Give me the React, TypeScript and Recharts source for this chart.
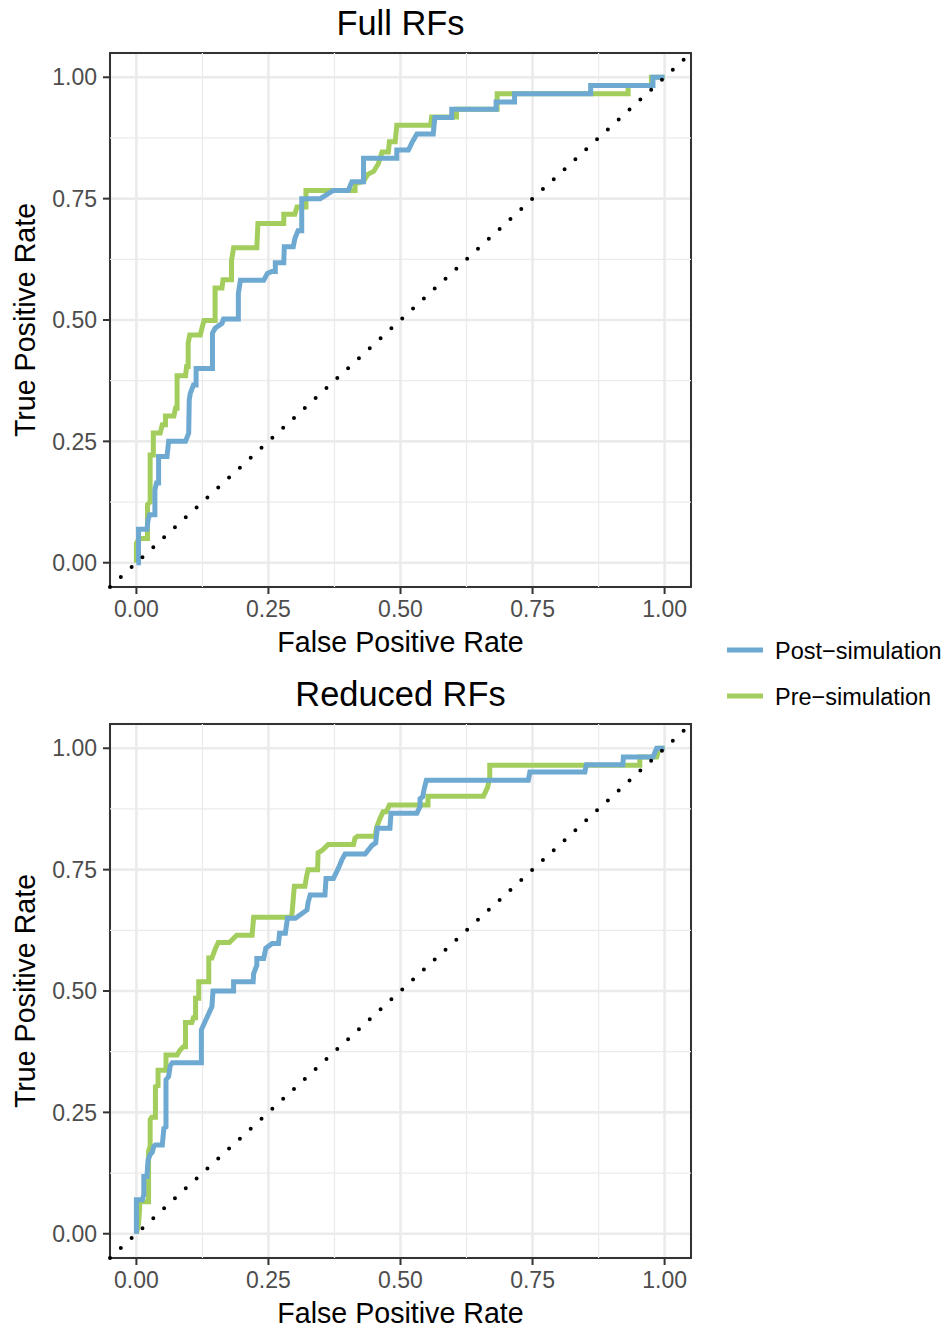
import { LineChart, Line, XAxis, YAxis, CartesianGrid, ReferenceLine, ReferenceArea, Label } from "recharts";

type Pair = [number, number];

const axisTicks = [0, 0.25, 0.5, 0.75, 1];
const minorTicks = [0.125, 0.375, 0.625, 0.875];
const domain: [number, number] = [-0.05, 1.05];

const POST_COLOR = "#6ea9d1";
const PRE_COLOR = "#a3cd5c";

// ROC vertices as [false positive rate, true positive rate]
const fullPre: Pair[] = [
  [0, 0], [0, 0.04], [0.005, 0.05], [0.021, 0.05], [0.021, 0.12], [0.026, 0.125], [0.026, 0.222],
  [0.032, 0.222], [0.032, 0.267], [0.045, 0.267], [0.049, 0.284], [0.055, 0.284], [0.055, 0.302],
  [0.071, 0.302], [0.074, 0.318], [0.077, 0.318], [0.077, 0.385], [0.093, 0.385], [0.095, 0.404],
  [0.098, 0.404], [0.098, 0.452], [0.101, 0.469], [0.121, 0.469], [0.124, 0.483], [0.128, 0.499],
  [0.149, 0.499], [0.149, 0.566], [0.162, 0.566], [0.164, 0.583], [0.18, 0.583], [0.18, 0.622],
  [0.184, 0.649], [0.228, 0.649], [0.23, 0.699], [0.279, 0.699], [0.279, 0.718], [0.3, 0.718],
  [0.304, 0.733], [0.321, 0.733], [0.321, 0.767], [0.414, 0.767], [0.414, 0.781], [0.43, 0.785],
  [0.438, 0.8], [0.449, 0.806], [0.458, 0.822], [0.465, 0.846], [0.477, 0.846], [0.479, 0.867],
  [0.49, 0.867], [0.493, 0.901], [0.557, 0.901], [0.559, 0.918], [0.606, 0.918], [0.606, 0.934],
  [0.683, 0.934], [0.683, 0.966], [0.931, 0.966], [0.931, 0.983], [0.975, 0.983], [0.975, 1], [1, 1],
];

const fullPost: Pair[] = [
  [0, 0], [0.004, 0], [0.004, 0.069], [0.02, 0.069], [0.022, 0.088], [0.025, 0.099], [0.035, 0.099],
  [0.035, 0.15], [0.038, 0.164], [0.042, 0.164], [0.042, 0.219], [0.058, 0.219], [0.061, 0.25],
  [0.093, 0.25], [0.099, 0.267], [0.1, 0.335], [0.102, 0.349], [0.108, 0.366], [0.113, 0.366],
  [0.113, 0.4], [0.144, 0.4], [0.144, 0.473], [0.149, 0.483], [0.162, 0.493], [0.165, 0.502],
  [0.193, 0.502], [0.193, 0.555], [0.197, 0.582], [0.241, 0.582], [0.248, 0.596], [0.256, 0.6],
  [0.263, 0.6], [0.263, 0.618], [0.279, 0.618], [0.28, 0.651], [0.297, 0.651], [0.3, 0.668],
  [0.306, 0.684], [0.313, 0.684], [0.313, 0.75], [0.348, 0.75], [0.373, 0.767], [0.401, 0.767],
  [0.408, 0.785], [0.43, 0.785], [0.43, 0.833], [0.493, 0.833], [0.493, 0.85], [0.515, 0.85],
  [0.522, 0.866], [0.531, 0.883], [0.562, 0.883], [0.565, 0.917], [0.597, 0.917], [0.597, 0.934],
  [0.681, 0.934], [0.681, 0.949], [0.716, 0.949], [0.716, 0.966], [0.86, 0.966], [0.86, 0.983],
  [0.978, 0.983], [0.978, 1], [1, 1],
];

const reducedPre: Pair[] = [
  [0, 0], [0.004, 0.02], [0.006, 0.05], [0.006, 0.066], [0.023, 0.066], [0.023, 0.17], [0.026, 0.18],
  [0.026, 0.235], [0.029, 0.24], [0.036, 0.24], [0.036, 0.303], [0.041, 0.305], [0.041, 0.337],
  [0.056, 0.337], [0.056, 0.368], [0.077, 0.368], [0.083, 0.379], [0.089, 0.385], [0.093, 0.385],
  [0.093, 0.435], [0.105, 0.435], [0.108, 0.445], [0.112, 0.445], [0.112, 0.485], [0.118, 0.485],
  [0.118, 0.519], [0.137, 0.519], [0.137, 0.568], [0.143, 0.568], [0.149, 0.586], [0.155, 0.6],
  [0.176, 0.6], [0.19, 0.615], [0.219, 0.615], [0.222, 0.652], [0.294, 0.652], [0.299, 0.716],
  [0.319, 0.716], [0.322, 0.735], [0.325, 0.75], [0.343, 0.75], [0.344, 0.785], [0.352, 0.79],
  [0.363, 0.802], [0.411, 0.802], [0.414, 0.815], [0.419, 0.819], [0.452, 0.819], [0.455, 0.838],
  [0.461, 0.855], [0.467, 0.869], [0.473, 0.869], [0.479, 0.883], [0.552, 0.883], [0.552, 0.901],
  [0.657, 0.901], [0.665, 0.92], [0.669, 0.94], [0.669, 0.965], [0.953, 0.965], [0.953, 0.982],
  [0.985, 0.982], [0.99, 1], [1, 1],
];

const reducedPost: Pair[] = [
  [0, 0], [0, 0.07], [0.011, 0.07], [0.014, 0.08], [0.014, 0.118], [0.02, 0.118], [0.022, 0.152],
  [0.026, 0.163], [0.03, 0.168], [0.033, 0.18], [0.036, 0.183], [0.049, 0.183], [0.052, 0.217],
  [0.056, 0.22], [0.056, 0.317], [0.061, 0.324], [0.064, 0.346], [0.068, 0.352], [0.123, 0.352],
  [0.123, 0.42], [0.143, 0.468], [0.145, 0.5], [0.184, 0.5], [0.184, 0.519], [0.221, 0.519],
  [0.222, 0.536], [0.228, 0.553], [0.228, 0.567], [0.241, 0.567], [0.245, 0.588], [0.257, 0.598],
  [0.269, 0.598], [0.271, 0.619], [0.282, 0.619], [0.286, 0.65], [0.301, 0.65], [0.323, 0.667],
  [0.325, 0.682], [0.329, 0.698], [0.357, 0.698], [0.359, 0.732], [0.373, 0.732], [0.382, 0.752],
  [0.389, 0.77], [0.395, 0.782], [0.433, 0.782], [0.446, 0.8], [0.453, 0.805], [0.456, 0.835],
  [0.48, 0.835], [0.482, 0.866], [0.531, 0.866], [0.537, 0.88], [0.537, 0.896], [0.542, 0.9],
  [0.545, 0.917], [0.549, 0.934], [0.742, 0.934], [0.745, 0.951], [0.849, 0.951], [0.852, 0.966],
  [0.921, 0.966], [0.922, 0.982], [0.978, 0.982], [0.985, 1], [1, 1],
];

const legendItems = [
  { label: "Post\u2212simulation", color: POST_COLOR },
  { label: "Pre\u2212simulation", color: PRE_COLOR },
];

const toRows = (pts: Pair[]) => pts.map(([fpr, tpr]) => ({ fpr, tpr }));

type PanelProps = { title: string; pre: Pair[]; post: Pair[]; top: number };

const RocPanel = ({ title, pre, post, top }: PanelProps) => {
  return (
    <div style={{ position: "absolute", left: 0, top, width: 700, height: 665 }}>
      <div
        style={{
          position: "absolute", left: 110, top: 6, width: 581, textAlign: "center",
          fontSize: 34.4, lineHeight: 1, color: "#000",
        }}
      >
        {title}
      </div>
      <LineChart width={700} height={665} margin={{ top: 53, right: 9, left: 0, bottom: 0 }}>
        <CartesianGrid stroke="#EBEBEB" strokeWidth={2.6} />
        {minorTicks.map((t) => (
          <ReferenceLine key={"mx" + t} x={t} stroke="#EBEBEB" strokeWidth={1.3} />
        ))}
        {minorTicks.map((t) => (
          <ReferenceLine key={"my" + t} y={t} stroke="#EBEBEB" strokeWidth={1.3} />
        ))}
        <XAxis
          type="number"
          dataKey="fpr"
          domain={domain}
          ticks={axisTicks}
          interval={0}
          tickFormatter={(v: number) => v.toFixed(2)}
          height={78}
          tickSize={7}
          tickMargin={7}
          axisLine={false}
          tickLine={{ stroke: "#333333", strokeWidth: 2 }}
          tick={{ fill: "#4D4D4D", fontSize: 23 }}
        >
          <Label value="False Positive Rate" position="insideBottom" offset={13} style={{ fontSize: 28.6, fill: "#000" }} />
        </XAxis>
        <YAxis
          type="number"
          domain={domain}
          ticks={axisTicks}
          interval={0}
          tickFormatter={(v: number) => v.toFixed(2)}
          width={110}
          tickSize={7}
          tickMargin={6}
          axisLine={false}
          tickLine={{ stroke: "#333333", strokeWidth: 2 }}
          tick={{ fill: "#4D4D4D", fontSize: 23 }}
        >
          <Label
            value="True Positive Rate"
            position="insideLeft"
            angle={-90}
            offset={25}
            style={{ fontSize: 28.6, fill: "#000", textAnchor: "middle" }}
          />
        </YAxis>
        <ReferenceArea x1={-0.05} x2={1.05} y1={-0.05} y2={1.05} fill="none" stroke="#333333" strokeWidth={2} />
        <Line data={toRows(pre)} dataKey="tpr" type="linear" stroke={PRE_COLOR} strokeWidth={5} dot={false} isAnimationActive={false} />
        <Line data={toRows(post)} dataKey="tpr" type="linear" stroke={POST_COLOR} strokeWidth={5} dot={false} isAnimationActive={false} />
        <ReferenceLine
          segment={[{ x: -0.05, y: -0.05 }, { x: 1.05, y: 1.05 }]}
          stroke="#000"
          strokeWidth={4}
          strokeLinecap="round"
          strokeDasharray="0 14.7"
        />
      </LineChart>
    </div>
  );
};

const Legend = () => (
  <svg style={{ position: "absolute", left: 700, top: 620 }} width={247} height={100}>
    {legendItems.map((item, i) => (
      <g key={item.label}>
        <line x1={27} x2={63} y1={30 + i * 46} y2={30 + i * 46} stroke={item.color} strokeWidth={5} />
        <text x={75} y={39 + i * 46} fontSize={23.5} fill="#000">{item.label}</text>
      </g>
    ))}
  </svg>
);

export default function App() {
  return (
    <div
      style={{
        position: "absolute", left: 0, top: 0, width: 947, height: 1330, background: "#fff",
        fontFamily: "'Liberation Sans', Arial, Helvetica, sans-serif", overflow: "hidden",
      }}
    >
      <RocPanel title="Full RFs" pre={fullPre} post={fullPost} top={0} />
      <RocPanel title="Reduced RFs" pre={reducedPre} post={reducedPost} top={671} />
      <Legend />
    </div>
  );
}
